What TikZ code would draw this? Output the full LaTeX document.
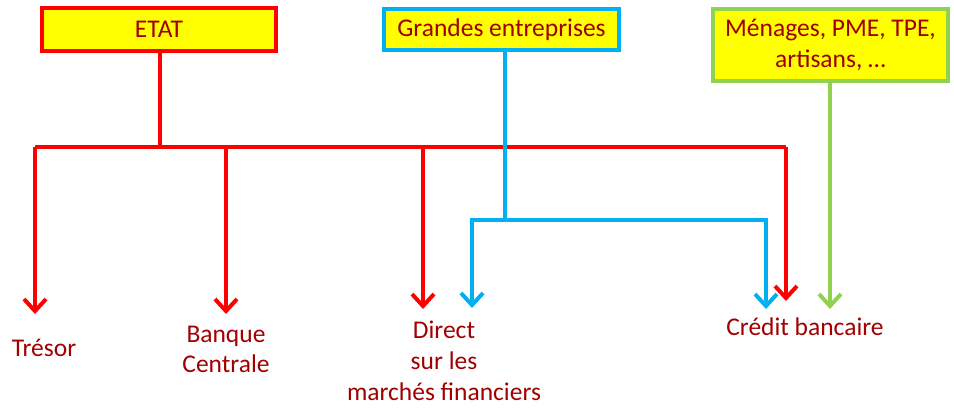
\documentclass[tikz,border=0pt]{standalone}
\usepackage{fontspec}
\setmainfont{Carlito}
\usetikzlibrary{arrows.meta}
\definecolor{cred}{HTML}{FF0000}
\definecolor{cblue}{HTML}{00B0F0}
\definecolor{cgreen}{HTML}{92D050}
\definecolor{cyel}{HTML}{FFFF00}
\definecolor{ctext}{HTML}{A00000}
\begin{document}
\begin{tikzpicture}[x=1pt,y=-1pt,
  every node/.style={font=\fontsize{25.5pt}{31pt}\selectfont, text=ctext},
  topbox/.style={fill=cyel, line width=4pt, inner sep=0pt, align=center},
  lbl/.style={align=center, inner sep=0pt, anchor=base},
  link/.style={line width=4pt},
  arr/.style={line width=4pt, -{Straight Barb[length=12pt,width=22pt,line width=4pt]}}]
\useasboundingbox (0,0) rectangle (954,414);
% boxes
\node[topbox, draw=cred, minimum width=234pt, minimum height=43pt] (etat) at (159,29.5) {ETAT};
\node[topbox, draw=cblue, minimum width=235pt, minimum height=41pt] (ge) at (501.5,29.5) {Grandes entreprises};
\node[topbox, draw=cgreen, minimum width=235pt, minimum height=72pt] (men) at (830.5,45) {Ménages, PME, TPE,\\artisans, \dots};
% labels (base = last line)
\node[lbl] (tresor) at (44,356) {Trésor};
\node[lbl] (banque) at (226,373) {Banque\\Centrale};
\node[lbl] (direct) at (444,400) {Direct\\sur les\\marchés financiers};
\node[lbl] (credit) at (805,335) {Crédit bancaire};
% coordinates
\coordinate (rj) at (160,147);
\coordinate (rl) at (35,147);
\coordinate (rr) at (786,147);
\coordinate (t1) at (35,314);
\coordinate (t2) at (226,314);
\coordinate (t3) at (423,309);
\coordinate (t4) at (786,301);
\coordinate (bj) at (505,220);
\coordinate (bl) at (472,220);
\coordinate (br) at (766,220);
\coordinate (t5) at (472,308);
\coordinate (t6) at (766,309);
\coordinate (t7) at (830,309);
% red
\draw[link, cred] (etat.south -| rj) -- (rj);
\draw[link, cred] (rl) -- (rr);
\draw[arr, cred] (rl) -- (t1);
\draw[arr, cred] (226,147) -- (t2);
\draw[arr, cred] (423,147) -- (t3);
\draw[arr, cred] (rr) -- (t4);
% blue
\draw[link, cblue] (ge.south -| bj) -- (bj);
\draw[arr, cblue] (bj) -- (bl) -- (t5);
\draw[arr, cblue] (bj) -- (br) -- (t6);
% green
\draw[arr, cgreen] (men.south -| t7) -- (t7);
\end{tikzpicture}
\end{document}
